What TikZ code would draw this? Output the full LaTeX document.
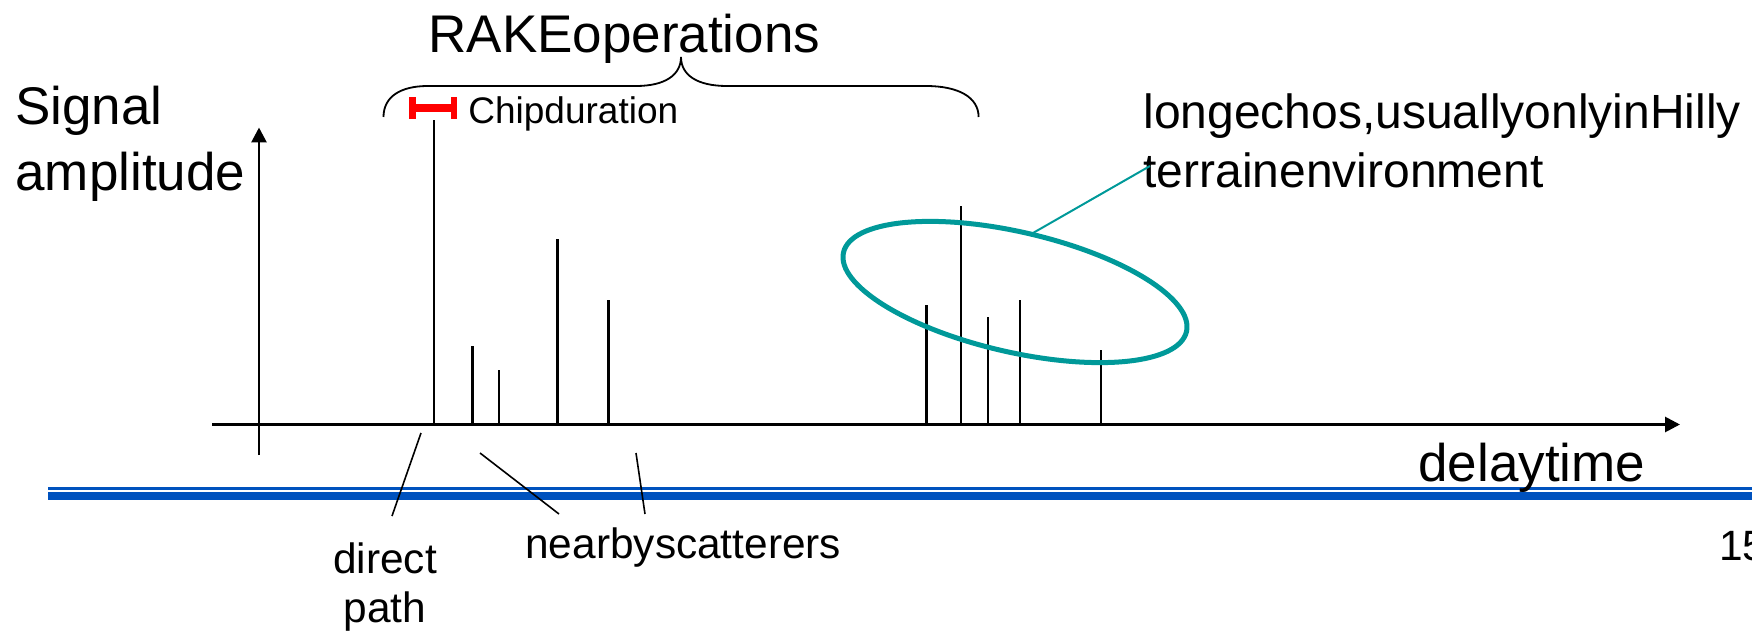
\documentclass[tikz,border=0pt]{standalone}
\usepackage{fontspec}
\setmainfont{Liberation Sans}
\usetikzlibrary{arrows.meta}
\definecolor{echoteal}{RGB}{0,153,153}
\definecolor{slideblue}{RGB}{0,82,190}
\definecolor{chipred}{RGB}{255,0,0}
\begin{document}
\begin{tikzpicture}[x=0.5pt,y=-0.5pt,
  lbl/.style={inner sep=0pt, anchor=base west},
  big/.style={font=\fontsize{26.5}{31}\selectfont},
  mid/.style={font=\fontsize{24}{29}\selectfont},
  small/.style={font=\fontsize{21.2}{25}\selectfont},
  tiny/.style={font=\fontsize{18.5}{22}\selectfont},
  spike/.style={line width=1.35pt},
  axisline/.style={line width=1.4pt, -{Triangle[length=7.5pt,width=7.5pt]}},
  leader/.style={line width=0.8pt},
  brace/.style={line width=0.9pt}]
\useasboundingbox (0,0) rectangle (1752,631);

% slide rule (double blue line)
\fill[slideblue] (48,487.3) rectangle (1752,490);
\fill[slideblue] (48,492.3) rectangle (1752,499.5);

% axes
\coordinate (xa0) at (212,424.5);
\coordinate (xa1) at (1680,424.5);
\coordinate (ya0) at (259,455);
\coordinate (ya1) at (259,127.5);
\draw[axisline] (xa0) -- (xa1);
\draw[axisline] (ya0) -- (ya1);

% spikes
\foreach \x/\t in {434/120, 472.5/346, 499/370, 557.5/239, 608.5/300,
                   926.5/305, 961/206, 988/317, 1020/300, 1101/350}
  \draw[spike] (\x,423) -- (\x,\t);

% chip duration marker
\fill[chipred] (409,97) rectangle (415.5,119);
\fill[chipred] (450.5,97) rectangle (457,119);
\fill[chipred] (415,104) rectangle (451,112);

% brace
\draw[brace] (383.5,117) .. controls (383.5,97) and (400,86) .. (428,86) -- (636,86)
  .. controls (665,86) and (681,75) .. (681,57)
  .. controls (681,75) and (697,86) .. (727,86) -- (926,86)
  .. controls (958,86) and (978.6,97) .. (978.6,117);

% ellipse around long echoes
\draw[echoteal, line width=2.5pt, rotate around={-13:(1015,292)}]
  (1015,292) ellipse [x radius=176, y radius=60];

% texts
\node[lbl,big] (rake) at (428,52.5) {RAKEoperations};
\node[lbl,tiny] (chip) at (468,124) {Chipduration};
\node[lbl,big] (sig) at (15,125) {Signal};
\node[lbl,big] (amp) at (15,191) {amplitude};
\node[lbl,mid] (echo1) at (1143,129) {longechos,usuallyonlyinHilly};
\node[lbl,mid] (echo2) at (1143,188) {terrainenvironment};
\node[lbl,big] (delay) at (1418,481.5) {delaytime};
\node[small, inner sep=0pt, anchor=base] (direct) at (385,573.5) {direct};
\node[small, inner sep=0pt, anchor=base] (path) at (385,622) {path};
\node[lbl,small] (near) at (525,558) {nearbyscatterers};
\node[lbl,small] (num) at (1719,560) {15};

% leader lines
\coordinate (echotip) at (1033,233);
\coordinate (echoend) at (1150,166);
\draw[echoteal, line width=1pt] (echotip) -- (echoend);
\coordinate (dp0) at (421,433);
\coordinate (dp1) at (392,516);
\draw[leader] (dp0) -- (dp1);
\coordinate (ns0) at (480,453);
\coordinate (ns1) at (559,514);
\draw[leader] (ns0) -- (ns1);
\coordinate (ns2) at (636,453);
\coordinate (ns3) at (645,514);
\draw[leader] (ns2) -- (ns3);
\end{tikzpicture}
\end{document}
